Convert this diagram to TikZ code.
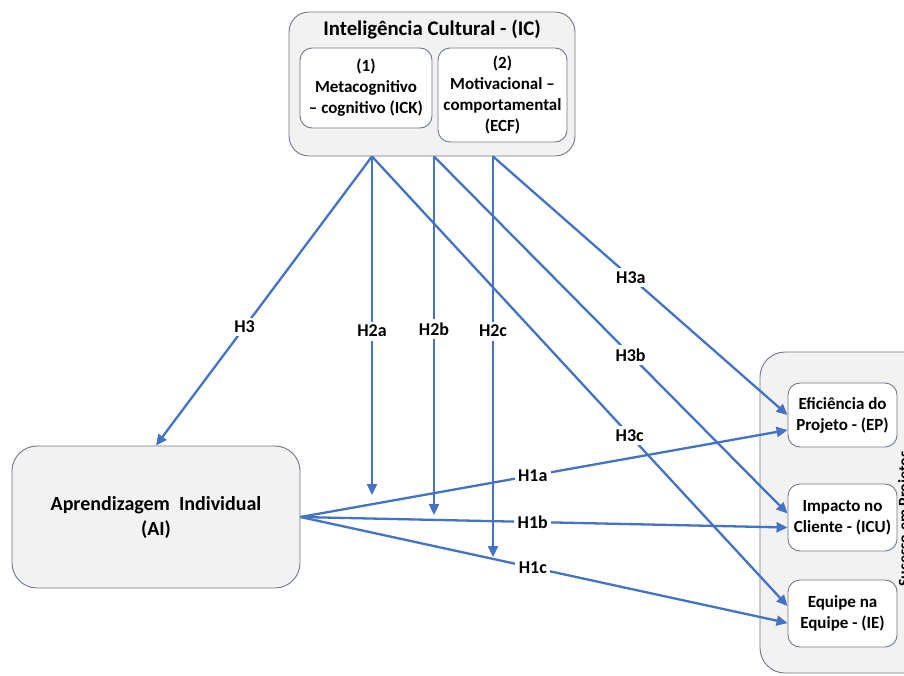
\documentclass[tikz,border=0pt]{standalone}
\usepackage{fontspec}
\setmainfont{Carlito}
\usetikzlibrary{arrows.meta}
\definecolor{lnblue}{RGB}{68,114,196}
\definecolor{boxfill}{RGB}{242,242,242}
\definecolor{boxdraw}{RGB}{110,120,134}
\begin{document}
\begin{tikzpicture}[x=1pt,y=-1pt,
 outerbox/.style={draw=boxdraw, fill=boxfill, line width=0.9pt, rounded corners=20pt, inner sep=0pt},
 innerbox/.style={draw=boxdraw, fill=white, line width=0.9pt, rounded corners=12pt, inner sep=0pt, align=center, font=\fontsize{17}{21}\selectfont\bfseries},
 lbl/.style={fill=white, inner sep=3.5pt, font=\fontsize{18}{20}\selectfont\bfseries},
 conn/.style={draw=lnblue, line width=2.3pt, -{Triangle[length=11pt,width=10pt]}}]
\clip (0,0) rectangle (904,675);
\fill[white] (0,0) rectangle (904,675);

% Inteligencia Cultural
\node[outerbox, minimum width=286pt, minimum height=144pt] (ic) at (432,84) {};
\node[font=\fontsize{20.8}{24}\selectfont\bfseries, inner sep=0pt] (ictitle) at (432,30) {Inteligência Cultural - (IC)};
\node[innerbox, minimum width=132pt, minimum height=80pt] (ick) at (366,88) {(1)\\Metacognitivo\\– cognitivo (ICK)};
\node[innerbox, minimum width=129pt, minimum height=94pt] (ecf) at (502.5,95) {(2)\\Motivacional –\\comportamental\\(ECF)};

% Aprendizagem Individual
\node[outerbox, rounded corners=25pt, minimum width=288pt, minimum height=142pt, align=center, font=\fontsize{20}{25}\selectfont\bfseries] (ai) at (156,517) {Aprendizagem\ \ Individual\\(AI)};

% Sucesso em Projetos
\node[outerbox, rounded corners=25pt, minimum width=190pt, minimum height=321pt] (sp) at (855,512.5) {};
\node[rotate=90, anchor=north, inner sep=0pt, font=\fontsize{16}{18}\selectfont\bfseries] (sptitle) at (898,519) {Sucesso em Projetos};
\node[innerbox, minimum width=109pt, minimum height=64pt] (ep) at (842.5,415) {Eficiência\ do\\Projeto - (EP)};
\node[innerbox, minimum width=109pt, minimum height=67pt] (icu) at (842.5,517.5) {Impacto no\\Cliente - (ICU)};
\node[innerbox, minimum width=109pt, minimum height=67pt] (ie) at (842.5,613.5) {Equipe na\\Equipe - (IE)};

% start / end coordinates
\path (ic.south) ++(-60,0) coordinate (s1) ++(62,0) coordinate (s2) ++(59,0) coordinate (s3);
\coordinate (m2a) at (372,495);
\coordinate (m2b) at (434,515);
\coordinate (m2c) at (493,557);

% connectors
\draw[conn] (s1) -- node[lbl,pos=0.59] (lh3) {H3} (ai.north);
\draw[conn] (s1) -- node[lbl,pos=0.516] (lh2a) {H2a} (m2a);
\draw[conn] (s2) -- node[lbl,pos=0.482] (lh2b) {H2b} (m2b);
\draw[conn] (s3) -- node[lbl,pos=0.436] (lh2c) {H2c} (m2c);
\draw[conn] (s3) -- node[lbl,pos=0.468] (lh3a) {H3a} (ep.west);
\draw[conn] (s2) -- node[lbl,pos=0.556] (lh3b) {H3b} ([yshift=4pt]icu.west);
\draw[conn] (s1) -- node[lbl,pos=0.62] (lh3c) {H3c} ([yshift=7.5pt]ie.west);
\draw[conn] (ai.east) -- node[lbl,pos=0.477] (lh1a) {H1a} ([yshift=-15pt]ep.west);
\draw[conn] (ai.east) -- node[lbl,pos=0.477] (lh1b) {H1b} ([yshift=-10pt]icu.west);
\draw[conn] (ai.east) -- node[lbl,pos=0.477] (lh1c) {H1c} ([yshift=-9.5pt]ie.west);
\end{tikzpicture}
\end{document}
